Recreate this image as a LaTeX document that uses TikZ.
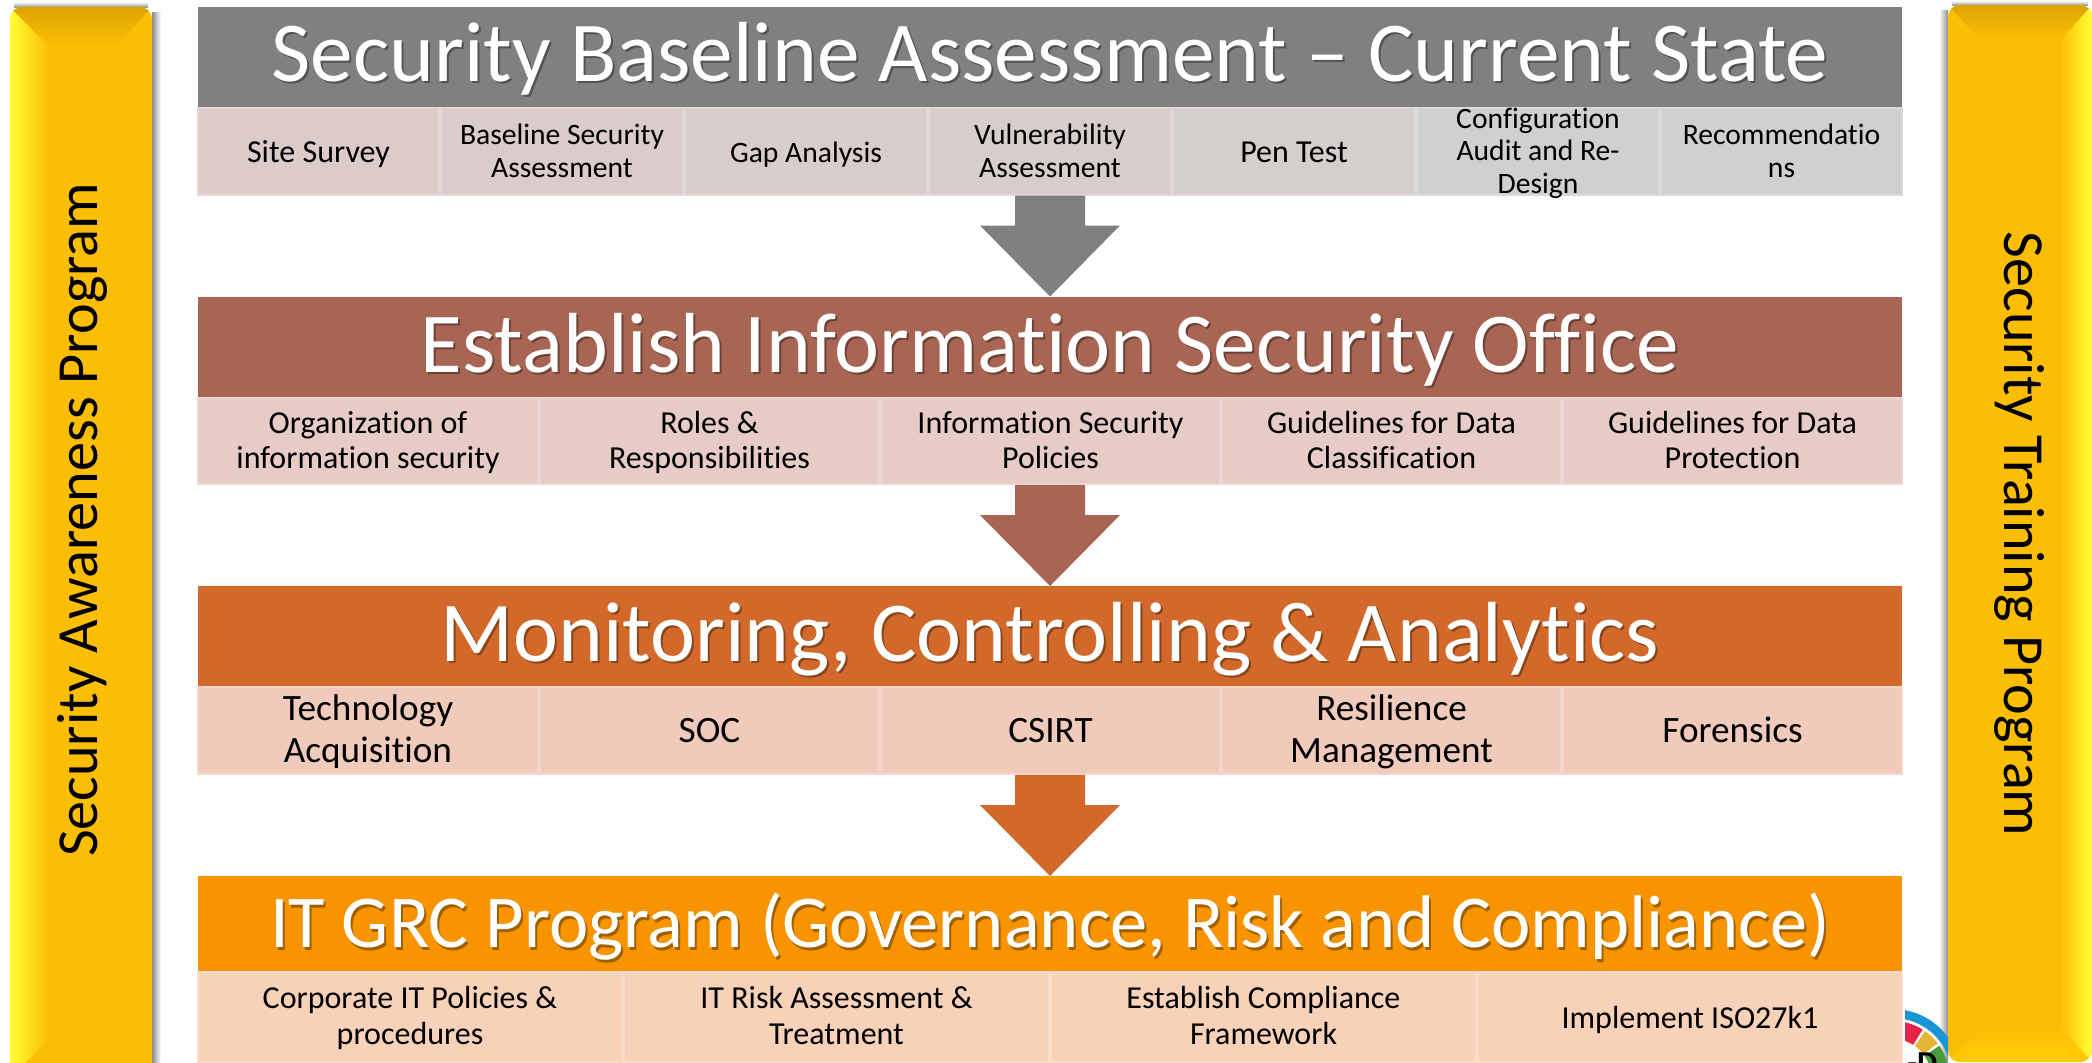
\documentclass[tikz,border=0pt]{standalone}
\usepackage{fontspec}
\setmainfont{Carlito}[Ligatures=NoCommon]
\definecolor{barGold}{HTML}{FBBE04}
\definecolor{barBright}{HTML}{FFFF33}
\definecolor{barDark}{HTML}{DCA503}
\definecolor{barLight}{HTML}{FFCB05}
\definecolor{headGrey}{HTML}{808080}
\definecolor{headBrown}{HTML}{A96553}
\definecolor{headRust}{HTML}{D2692A}
\definecolor{headAmber}{HTML}{F79400}
\definecolor{cellRose}{HTML}{DCCBC9}
\definecolor{cellSilver}{HTML}{D0D0D0}
\definecolor{cellBrown}{HTML}{E6CBC6}
\definecolor{cellRust}{HTML}{F0CABA}
\definecolor{cellAmber}{HTML}{F8D2B8}
\definecolor{logoBlue}{HTML}{1B95D4}
\definecolor{logoRed}{HTML}{E8234A}
\definecolor{logoYellow}{HTML}{E6B437}
\definecolor{logoGreen}{HTML}{4A9B3F}
\tikzset{
  headbox/.style={fill=#1, inner sep=0pt, outer sep=0pt, minimum width=852pt, minimum height=50pt},
  titletext/.style={text=white, anchor=base, inner sep=0pt},
  titleshade/.style={text=black, opacity=0.35, anchor=base, inner sep=0pt},
  cellbox/.style={fill=#1, draw=#1!78!white, line width=1pt, inner sep=0pt, outer sep=0pt},
  celltext/.style={align=center, inner sep=0pt, yshift=-2pt, execute at begin node=\strut, execute at end node=\strut},
  sidetext/.style={text=black, inner sep=0pt, font=\fontsize{29.1}{31}\selectfont},
}
\begin{document}
\begin{tikzpicture}[x=0.5pt, y=-0.5pt]
\useasboundingbox (0,0) rectangle (2092,1062);

% ----- Side bars -----
\shade[left color=black!45, right color=white] (152,12) rectangle (161,1062);
\shade[top color=white, bottom color=black!40] (14,2) rectangle (148,7);
\begin{scope}
  \clip[rounded corners=6pt] (10,7) rectangle (152,1085);
  \fill[barGold] (10,7) rectangle (152,1085);
  \shade[left color=barBright, right color=barGold] (10,7) -- (48,45) -- (48,1040) -- (10,1078) -- cycle;
  \shade[top color=barDark, bottom color=barGold] (10,7) -- (152,7) -- (118,45) -- (48,45) -- cycle;
\end{scope}
\shade[right color=black!45, left color=white] (1939,10) rectangle (1948,1062);
\shade[top color=white, bottom color=black!40] (1952,1) rectangle (2088,5);
\begin{scope}
  \clip[rounded corners=6pt] (1948,5) rectangle (2092,1062);
  \fill[barGold] (1948,5) rectangle (2092,1062);
  \shade[right color=barBright, left color=barGold] (2092,5) -- (2060,40) -- (2060,1027) -- (2092,1062) -- cycle;
  \shade[top color=barDark, bottom color=barGold] (1948,5) -- (2092,5) -- (2060,40) -- (1980,40) -- cycle;
  \shade[top color=barGold, bottom color=barLight] (1948,1062) -- (1983,1027) -- (2060,1027) -- (2092,1062) -- cycle;
\end{scope}
\node[sidetext, rotate=90] (awareness) at (82,520) {Security Awareness Program};
\node[sidetext, rotate=-90] (training) at (2019,534) {Security Training Program};

% ----- Logo corner -----
\begin{scope}
  \clip (1905,1000) rectangle (1948,1062);
  \draw[logoBlue, line width=4.5pt] (1893,1077) ++(100:31.7pt) arc[start angle=100, end angle=20, radius=31.7pt];
  \foreach \aa/\ab/\col in {80/58/logoRed, 55/37/logoYellow, 34/15/logoGreen}{
    \fill[\col] (1893,1077) ++(\aa:28pt) arc[start angle=\aa, end angle=\ab, radius=28pt]
      -- ++(\ab+180:9pt) arc[start angle=\ab, end angle=\aa, radius=19pt] -- cycle;
  }
  \node[font=\bfseries\fontsize{16}{16}\selectfont, anchor=base, inner sep=0pt] (logotext) at (1918,1073) {I-D};
\end{scope}

% ----- Header bars -----
\node[headbox=headGrey] (headA) at (1050,57) {};
\node[headbox=headBrown] (headB) at (1050,346.5) {};
\node[headbox=headRust] (headC) at (1050,636) {};
\node[headbox=headAmber, minimum height=47.5pt] (headD) at (1050,923.5) {};

% ----- Header titles (dark copy first, for the soft shadow) -----
\foreach \name/\y/\fs/\txt in {A/81/42.65/Security Baseline Assessment – Current State,
    B/372/42.65/Establish Information Security Office,
    C/661/42.65/Monitoring{,} Controlling \& Analytics,
    D/947.5/37.3/IT GRC Program (Governance{,} Risk and Compliance)}{
  \node[titleshade, font=\fontsize{\fs}{\fs}\selectfont] (shade\name) at (1052,\y+2.5) {\txt};
  \node[titletext, font=\fontsize{\fs}{\fs}\selectfont] (title\name) at (1050,\y) {\txt};
}

% ----- Row 1 -----
\foreach \xa/\xb/\pct/\fs/\txt [count=\i] in {197/440/100/16/Site Survey,
    440/684/84/14.8/Baseline Security\\Assessment,
    684/928/68/14.8/Gap Analysis,
    928/1172/52/14.8/Vulnerability\\Assessment,
    1172/1416/36/16/Pen Test,
    1416/1660/18/14.8/Configuration\\Audit and Re-\\Design,
    1660/1903/0/14.8/Recommendatio\\ns}{
  \node[cellbox=cellRose!\pct!cellSilver, minimum width={(\xb-\xa-2)*0.5pt}, minimum height=43.5pt]
    (rowA\i) at ({(\xa+\xb)/2},151.5) {};
  \node[celltext, font=\fontsize{\fs}{16.3}\selectfont] (textA\i) at (rowA\i) {\txt};
}

% ----- Row 2 -----
\foreach \xa/\xb/\txt [count=\i] in {197/539/Organization of\\information security,
    539/880/Roles \&\\Responsibilities,
    880/1221/Information Security\\Policies,
    1221/1562/Guidelines for Data\\Classification,
    1562/1903/Guidelines for Data\\Protection}{
  \node[cellbox=cellBrown, minimum width={(\xb-\xa-2)*0.5pt}, minimum height=43pt]
    (rowB\i) at ({(\xa+\xb)/2},441) {};
  \node[celltext, font=\fontsize{16}{17.4}\selectfont] (textB\i) at (rowB\i) {\txt};
}

% ----- Row 3 -----
\foreach \xa/\xb/\txt [count=\i] in {197/539/Technology\\Acquisition,
    539/880/SOC,
    880/1221/CSIRT,
    1221/1562/Resilience\\Management,
    1562/1903/Forensics}{
  \node[cellbox=cellRust, minimum width={(\xb-\xa-2)*0.5pt}, minimum height=43.5pt]
    (rowC\i) at ({(\xa+\xb)/2},730.5) {};
  \node[celltext, font=\fontsize{18.6}{21}\selectfont] (textC\i) at (rowC\i) {\txt};
}

% ----- Row 4 -----
\foreach \xa/\xb/\txt [count=\i] in {197/623/Corporate IT Policies \&\\procedures,
    623/1050/IT Risk Assessment \&\\Treatment,
    1050/1477/Establish Compliance\\Framework,
    1477/1903/Implement ISO27k1}{
  \node[cellbox=cellAmber, minimum width={(\xb-\xa-2)*0.5pt}, minimum height=45pt]
    (rowD\i) at ({(\xa+\xb)/2},1017) {};
  \node[celltext, font=\fontsize{16}{18}\selectfont] (textD\i) at (rowD\i) {\txt};
}

% ----- Block arrows between the stages -----
\foreach \tip/\col in {headB/headGrey, headC/headBrown, headD/headRust}{
  \fill[\col] (\tip.north) -- ++(-70,-71) -- ++(35,0) -- ++(0,-30) -- ++(70,0) -- ++(0,30) -- ++(35,0) -- cycle;
}
\end{tikzpicture}
\end{document}
